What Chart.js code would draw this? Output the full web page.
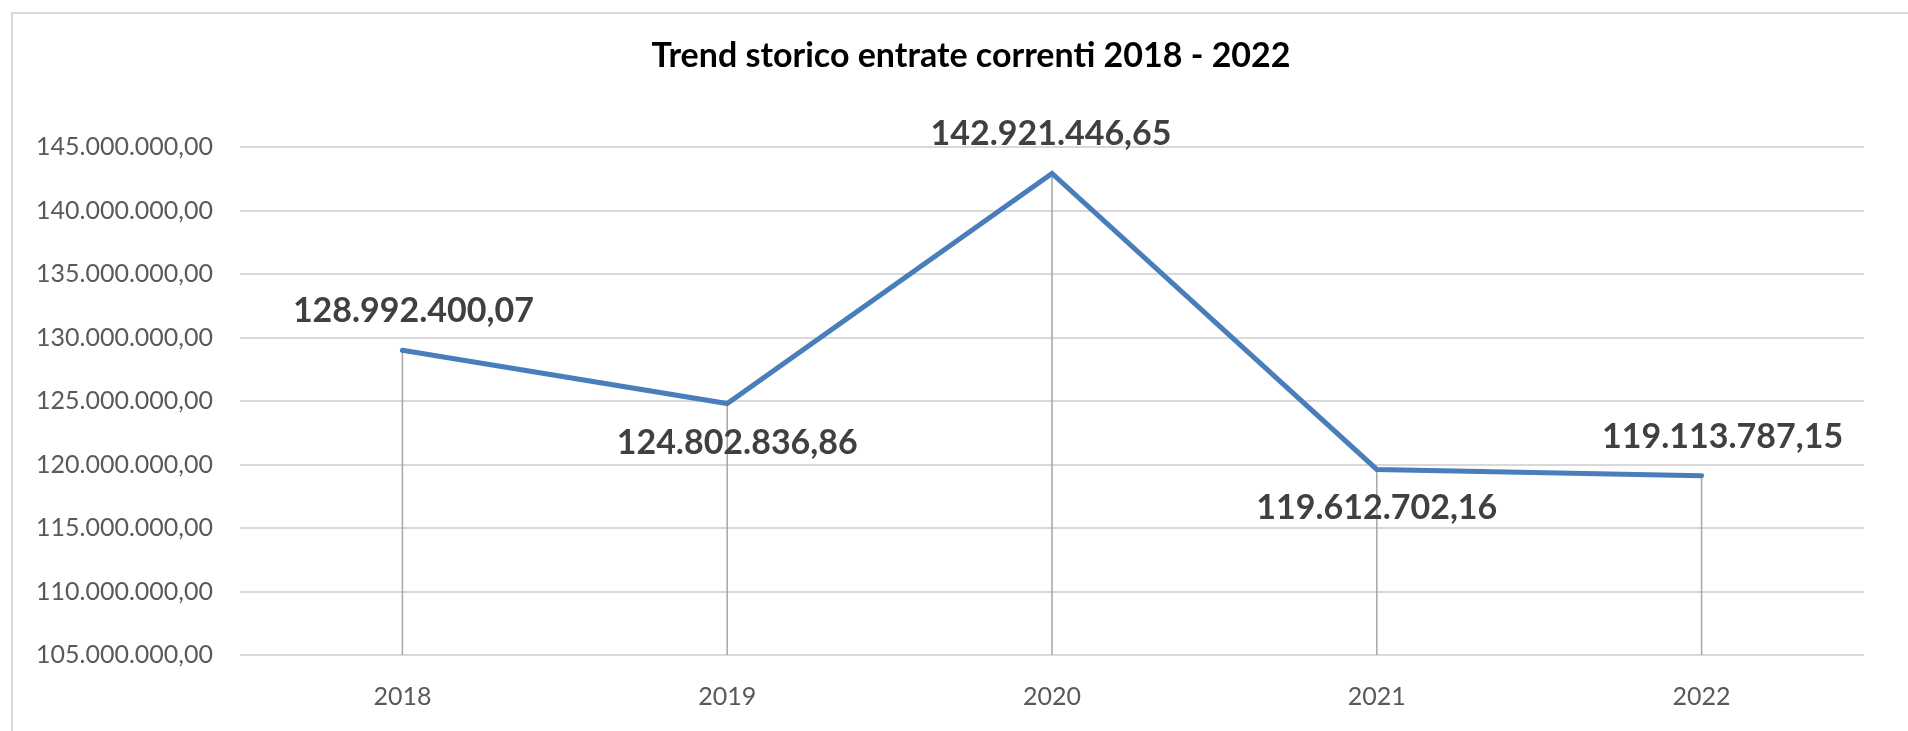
<!DOCTYPE html>
<html>
<head>
<meta charset="utf-8">
<script src="https://cdn.jsdelivr.net/npm/chart.js@4/dist/chart.umd.min.js"></script>
<style>
  html, body { margin: 0; padding: 0; background: #ffffff; overflow: hidden; }
  #frame { position: absolute; left: 11px; top: 12px; width: 2000px; height: 800px;
           border-left: 2px solid #d9d9d9; border-top: 2px solid #d9d9d9; }
  #wrap { position: absolute; left: 0; top: 0; width: 1908px; height: 731px; }
</style>
</head>
<body>
<div id="frame"></div>
<div id="wrap"><canvas id="c" width="1908" height="731"></canvas></div>
<script>
const categories = ['2018', '2019', '2020', '2021', '2022'];
const entrate = [128992400.07, 124802836.86, 142921446.65, 119612702.16, 119113787.15];
const yTicks = [105000000, 110000000, 115000000, 120000000, 125000000, 130000000, 135000000, 140000000, 145000000];
const chartTitle = 'Trend storico entrate correnti 2018 - 2022';

function fmtIt(v, dec) {
  const neg = v < 0; v = Math.abs(v);
  const s = v.toFixed(dec);
  const parts = s.split('.');
  const intPart = parts[0].replace(/\B(?=(\d{3})+(?!\d))/g, '.');
  return (neg ? '-' : '') + intPart + (dec > 0 ? ',' + parts[1] : '');
}

const titleText = {
  id: 'titleText',
  afterDraw(chart, args, opts) {
    const ctx = chart.ctx;
    ctx.save();
    ctx.font = opts.font;
    ctx.fillStyle = opts.color;
    ctx.textAlign = 'center';
    ctx.textBaseline = 'alphabetic';
    ctx.fillText(opts.text, opts.centerX, opts.baseline);
    ctx.restore();
  }
};

const dropLines = {
  id: 'dropLines',
  beforeDatasetsDraw(chart) {
    const ctx = chart.ctx;
    const meta = chart.getDatasetMeta(0);
    const bottom = chart.scales.y.bottom;
    ctx.save();
    ctx.strokeStyle = '#a6a6a6';
    ctx.lineWidth = 1.5;
    meta.data.forEach(pt => {
      ctx.beginPath();
      ctx.moveTo(pt.x, pt.y);
      ctx.lineTo(pt.x, bottom);
      ctx.stroke();
    });
    ctx.restore();
  }
};

const valueLabels = {
  id: 'valueLabels',
  afterDatasetsDraw(chart, args, opts) {
    const ctx = chart.ctx;
    const meta = chart.getDatasetMeta(0);
    const data = chart.data.datasets[0].data;
    ctx.save();
    ctx.font = opts.font;
    ctx.fillStyle = opts.color;
    ctx.textAlign = 'center';
    ctx.textBaseline = 'alphabetic';
    meta.data.forEach((pt, i) => {
      const p = opts.placement[i];
      const txt = fmtIt(data[i], 2);
      const y = p.side === 'above' ? pt.y - opts.gapAbove : pt.y + opts.gapBelow;
      ctx.fillText(txt, pt.x + p.dx, y);
    });
    ctx.restore();
  }
};

function build() {
  new Chart(document.getElementById('c'), {
    type: 'line',
    data: {
      labels: categories,
      datasets: [{
        data: entrate,
        borderColor: '#4a7ebb',
        borderWidth: 5,
        borderCapStyle: 'round',
        borderJoinStyle: 'miter',
        pointRadius: 0,
        tension: 0,
        fill: false
      }]
    },
    options: {
      responsive: false,
      animation: false,
      devicePixelRatio: 1,
      layout: { padding: { left: 0, right: 44, top: 147, bottom: 0 } },
      plugins: {
        legend: { display: false },
        tooltip: { enabled: false },
        title: { display: false },
        titleText: {
          text: chartTitle,
          font: 'bold 34px Lato',
          color: '#000000',
          centerX: 971,
          baseline: 67
        },
        valueLabels: {
          font: 'bold 34px Lato',
          color: '#404040',
          gapAbove: 28,
          gapBelow: 50,
          placement: [
            { side: 'above', dx: 11 },
            { side: 'below', dx: 10 },
            { side: 'above', dx: -1 },
            { side: 'below', dx: 0 },
            { side: 'above', dx: 21 }
          ]
        }
      },
      scales: {
        x: {
          type: 'category',
          offset: true,
          grid: { display: false, drawTicks: false },
          border: { display: false },
          ticks: { color: '#595959', font: { family: 'Lato', size: 25 }, padding: 27, maxRotation: 0 },
          afterFit(scale) { scale.height = 76; }
        },
        y: {
          min: 105000000,
          max: 145000000,
          afterBuildTicks(scale) { scale.ticks = yTicks.map(v => ({ value: v })); },
          grid: { color: '#d9d9d9', lineWidth: 2, drawTicks: false },
          border: { display: false },
          ticks: {
            color: '#595959',
            font: { family: 'Lato', size: 25 },
            padding: 27,
            callback: (v) => fmtIt(v, 2)
          },
          afterFit(scale) { scale.width = 240; }
        }
      }
    },
    plugins: [dropLines, valueLabels, titleText]
  });
}

if (document.fonts && document.fonts.load) {
  Promise.all([
    document.fonts.load('bold 34px Lato'),
    document.fonts.load('25px Lato')
  ]).then(build, build);
} else {
  build();
}
</script>
</body>
</html>
